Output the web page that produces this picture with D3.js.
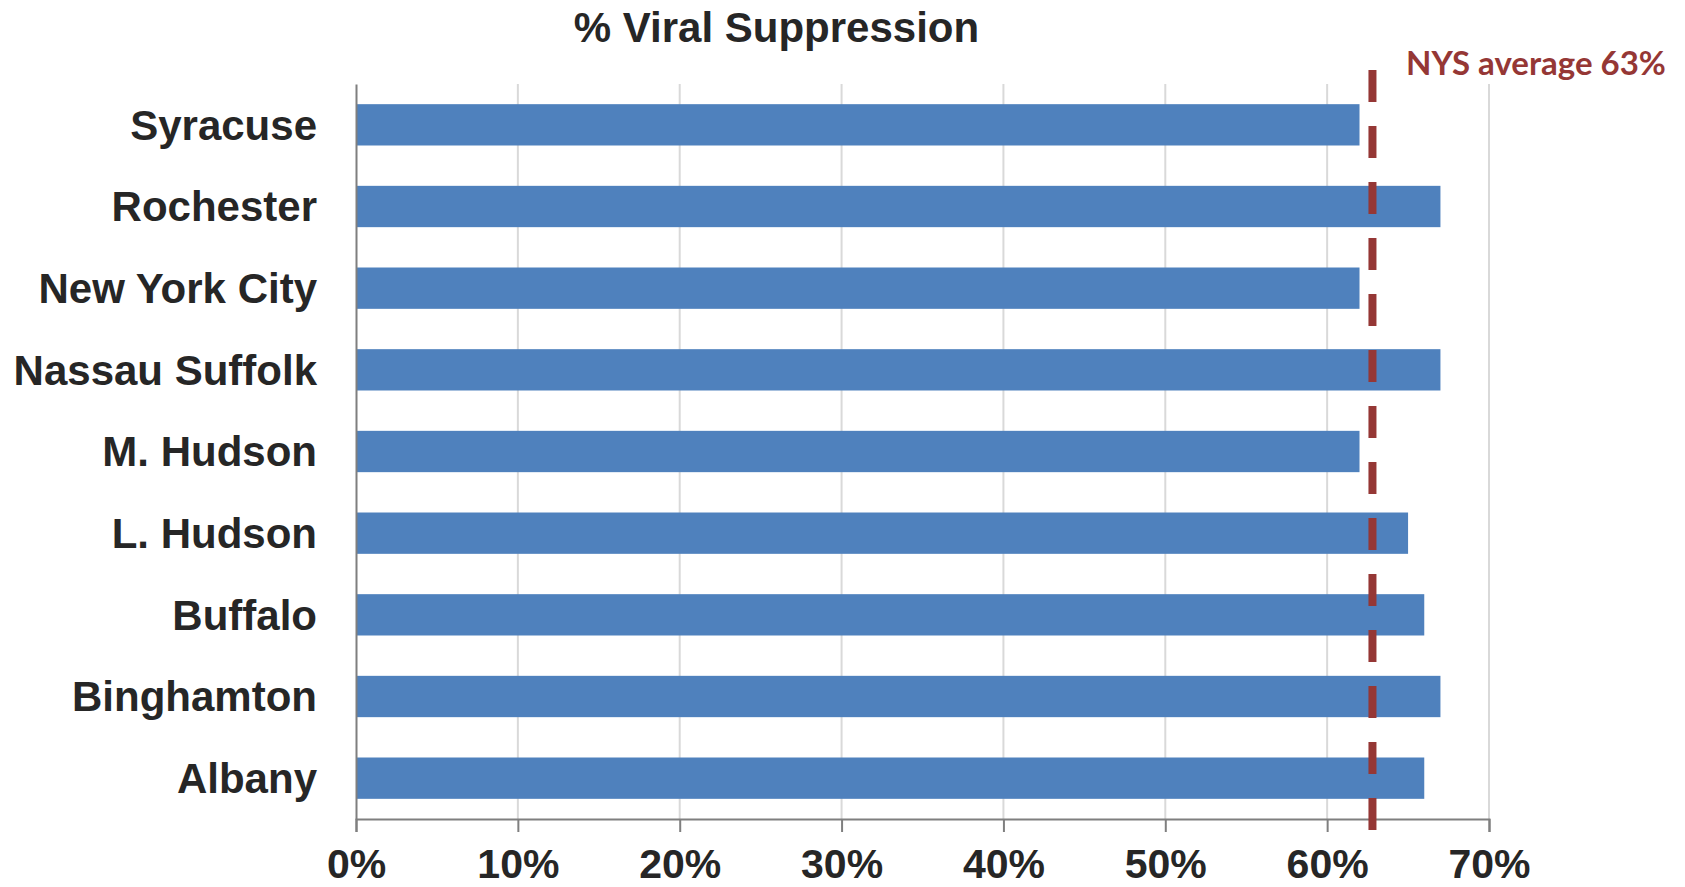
<!DOCTYPE html>
<html>
<head>
<meta charset="utf-8">
<script src="https://cdn.jsdelivr.net/npm/d3@7"></script>
<style>
  html, body { margin: 0; padding: 0; background: #fff; }
  svg { display: block; }
</style>
</head>
<body>
<svg id="chart" width="1685" height="887"></svg>
<script>
const categories = ["Syracuse", "Rochester", "New York City", "Nassau Suffolk", "M. Hudson", "L. Hudson", "Buffalo", "Binghamton", "Albany"];
const values = [62, 67, 62, 67, 62, 65, 66, 67, 66];
const xTicks = [0, 10, 20, 30, 40, 50, 60, 70];
const averageValue = 62.8;
const averageLabel = "NYS average 63%";
const titleText = "% Viral Suppression";

const svg = d3.select("#chart");
const margin = { left: 356, right: 196, top: 84, bottom: 68 };
const W = 1685, H = 887;
const plotW = W - margin.left - margin.right;
const plotH = H - margin.top - margin.bottom;

const x = d3.scaleLinear().domain([0, 70]).range([margin.left, margin.left + plotW]);
const y = d3.scaleBand().domain(categories).range([margin.top, margin.top + plotH]).paddingInner(0.494).paddingOuter(0.247);

// gridlines
svg.append("g").selectAll("line").data(xTicks.filter(d => d > 0)).join("line")
  .attr("x1", d => x(d)).attr("x2", d => x(d))
  .attr("y1", margin.top).attr("y2", margin.top + plotH)
  .attr("stroke", "#d9d9d9").attr("stroke-width", 2);

// bars
svg.append("g").selectAll("rect").data(categories).join("rect")
  .attr("x", x(0))
  .attr("y", d => y(d))
  .attr("width", (d, i) => x(values[i]) - x(0))
  .attr("height", y.bandwidth())
  .attr("fill", "#4f81bd");

// x axis
const xAxis = d3.axisBottom(x).tickValues(xTicks).tickFormat(d => d + "%").tickSize(13).tickPadding(17);
const gx = svg.append("g").attr("transform", `translate(0,${margin.top + plotH})`).call(xAxis);
gx.select(".domain").attr("stroke", "#7f7f7f").attr("stroke-width", 2);
gx.selectAll(".tick line").attr("stroke", "#7f7f7f").attr("stroke-width", 2);
gx.selectAll(".tick text")
  .attr("fill", "#262626")
  .attr("font-family", "'Liberation Sans', Arial, sans-serif")
  .attr("font-weight", "bold")
  .attr("font-size", 41);

// y axis
const yAxis = d3.axisLeft(y).tickSize(0).tickPadding(39);
const gy = svg.append("g").attr("transform", `translate(${margin.left},0)`).call(yAxis);
gy.select(".domain").attr("stroke", "#7f7f7f").attr("stroke-width", 2);
gy.selectAll(".tick text")
  .attr("fill", "#262626")
  .attr("font-family", "'Liberation Sans', Arial, sans-serif")
  .attr("font-weight", "bold")
  .attr("font-size", 42)
  .attr("dy", "0.35em");

// average line
svg.append("line")
  .attr("x1", x(averageValue)).attr("x2", x(averageValue))
  .attr("y1", 70).attr("y2", 831)
  .attr("stroke", "#953735").attr("stroke-width", 8)
  .attr("stroke-dasharray", "32,24");

svg.append("text")
  .attr("x", 1406).attr("y", 75)
  .attr("fill", "#953735")
  .attr("font-family", "Lato, 'Open Sans', sans-serif")
  .attr("font-weight", "bold")
  .attr("font-size", 33)
  .text(averageLabel);

// title
svg.append("text")
  .attr("x", 776.5).attr("y", 42)
  .attr("text-anchor", "middle")
  .attr("fill", "#262626")
  .attr("font-family", "'Liberation Sans', Arial, sans-serif")
  .attr("font-weight", "bold")
  .attr("font-size", 42)
  .text(titleText);
</script>
</body>
</html>
